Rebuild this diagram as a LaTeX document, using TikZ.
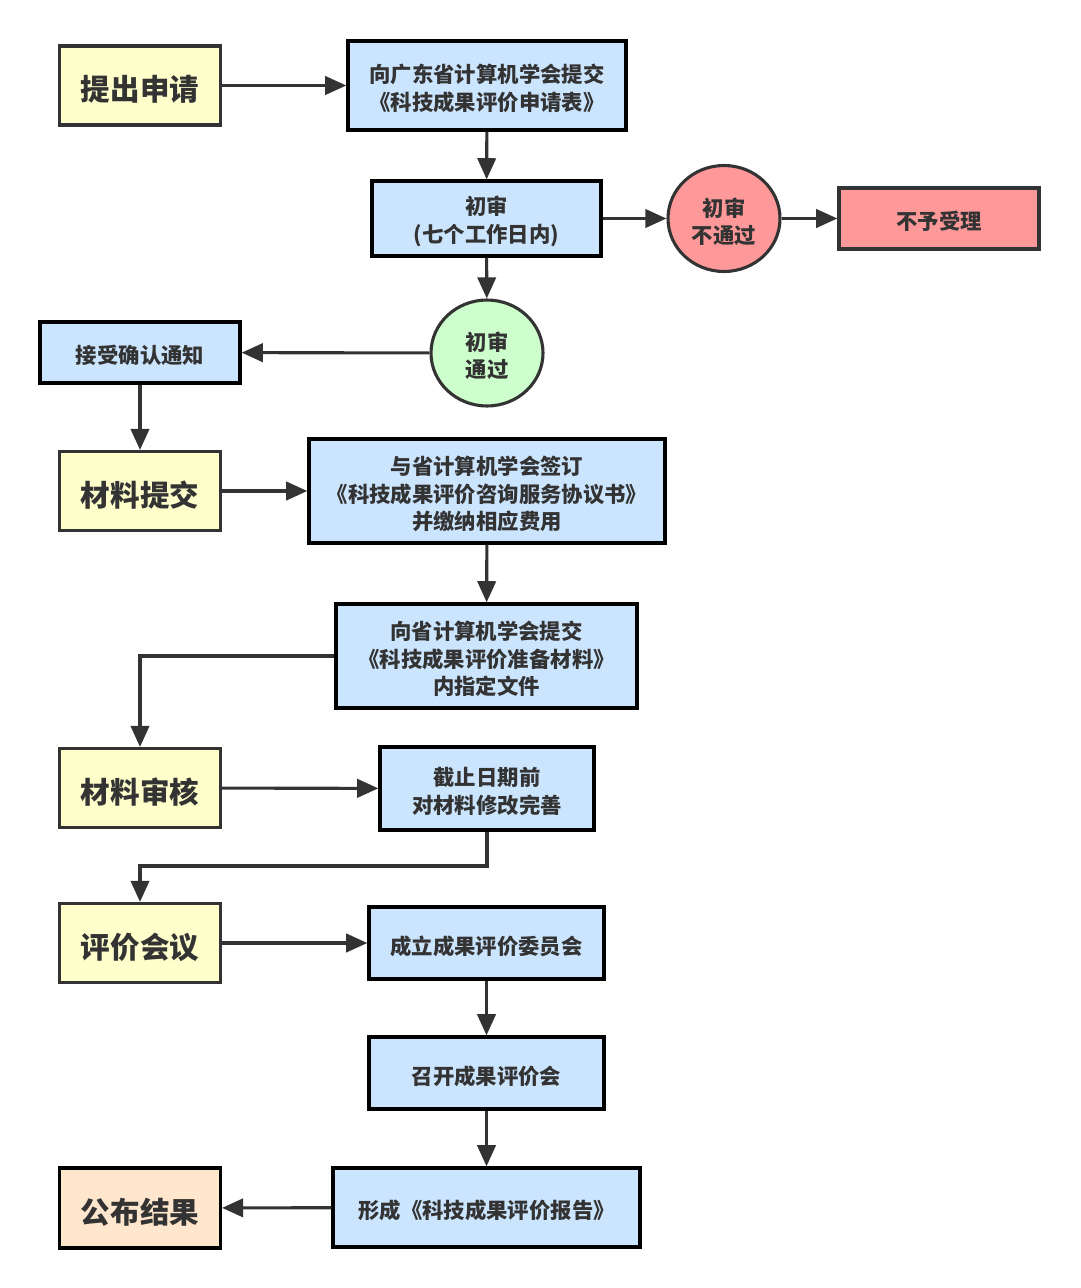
\documentclass[tikz,border=0pt]{standalone}
\usepackage{fontspec}
\setmainfont{Noto Sans CJK SC}
\usetikzlibrary{arrows.meta,shapes.geometric}
\definecolor{ink}{HTML}{333333}
\definecolor{stepyellow}{HTML}{FFFFCC}
\definecolor{stepblue}{HTML}{CCE5FF}
\definecolor{stepred}{HTML}{FF9999}
\definecolor{stepgreen}{HTML}{CCFFCC}
\definecolor{steppeach}{HTML}{FFE6CC}
\tikzset{
  sz/.style 2 args={minimum width=#1*0.025cm, minimum height=#2*0.025cm},
  lowtext/.style={execute at begin node={\vbox\bgroup\kern0.28em\hbox\bgroup},
    execute at end node={\egroup\egroup}},
  bigbox/.style={draw=ink, line width=2.2pt, fill=stepyellow, inner sep=0pt,
    text=ink, lowtext, font=\fontsize{21pt}{25pt}\selectfont\bfseries, sz={161}{79}},
  bluebox/.style={draw=black, line width=2.4pt, fill=stepblue, inner sep=0pt,
    align=center, text=ink, lowtext, font=\fontsize{15.2pt}{19.5pt}\selectfont\bfseries},
  roundbox/.style={ellipse, draw=ink, line width=2.2pt, inner sep=0pt,
    align=center, text=ink, lowtext, font=\fontsize{15.2pt}{19.5pt}\selectfont\bfseries},
  flow/.style={draw=ink, line width=2.2pt, -{Triangle[length=15pt,width=13pt]}}
}
\begin{document}
\begin{tikzpicture}[x=0.025cm, y=-0.025cm]
    \useasboundingbox (0,0) rectangle (1080,1288);

    % apply
    \node[bigbox] (apply) at (140,85.5) {提出申请};
    \node[bluebox, sz={278}{89}] (form) at (487,85.5) {向广东省计算机学会提交\\《科技成果评价申请表》};
    \draw[flow] (apply) -- (form);

    % first check
    \node[bluebox, sz={229}{75}] (check) at (486.5,218.5) {初审\\(七个工作日内)};
    \node[roundbox, fill=stepred, sz={112}{106}] (fail) at (724,218.5) {初审\\不通过};
    \node[bluebox, draw=ink, fill=stepred, sz={200}{61}] (reject) at (939,218.5) {不予受理};
    \node[roundbox, fill=stepgreen, sz={112}{106}] (pass) at (487,353) {初审\\通过};
    \node[bluebox, sz={200}{61}] (notice) at (140,352.5) {接受确认通知};
    \draw[flow] (form) -- (check);
    \draw[flow] (check) -- (fail);
    \draw[flow] (fail) -- (reject);
    \draw[flow] (check) -- (pass);
    \draw[flow] (pass) -- (notice);

    % submit
    \node[bigbox] (submit) at (140,491) {材料提交};
    \node[bluebox, sz={356}{104}] (sign) at (487,491) {与省计算机学会签订\\《科技成果评价咨询服务协议书》\\并缴纳相应费用};
    \node[bluebox, sz={301}{104}] (prep) at (486.5,656) {向省计算机学会提交\\《科技成果评价准备材料》\\内指定文件};
    \draw[flow] (notice) -- (submit);
    \draw[flow] (submit) -- (sign);
    \draw[flow] (sign) -- (prep);

    % review
    \node[bigbox] (review) at (140,788) {材料审核};
    \node[bluebox, sz={214}{83}] (fix) at (487,788.5) {截止日期前\\对材料修改完善};
    \draw[flow] (prep.west) -| (review.north);
    \draw[flow] (review) -- (fix);

    % meeting
    \coordinate (bend) at (487,866);
    \node[bigbox] (meet) at (140,943) {评价会议};
    \node[bluebox, sz={235}{72}] (panel) at (486.5,943) {成立成果评价委员会};
    \node[bluebox, sz={235}{72}] (session) at (486.5,1073) {召开成果评价会};
    \node[bluebox, sz={307}{79}] (report) at (486.5,1207.5) {形成《科技成果评价报告》};
    \node[bigbox, draw=black, fill=steppeach, sz={161}{80}] (publish) at (140,1208) {公布结果};
    \draw[flow] (fix.south) -- (bend) -| (meet.north);
    \draw[flow] (meet) -- (panel);
    \draw[flow] (panel) -- (session);
    \draw[flow] (session) -- (report);
    \draw[flow] (report) -- (publish);
\end{tikzpicture}
\end{document}
